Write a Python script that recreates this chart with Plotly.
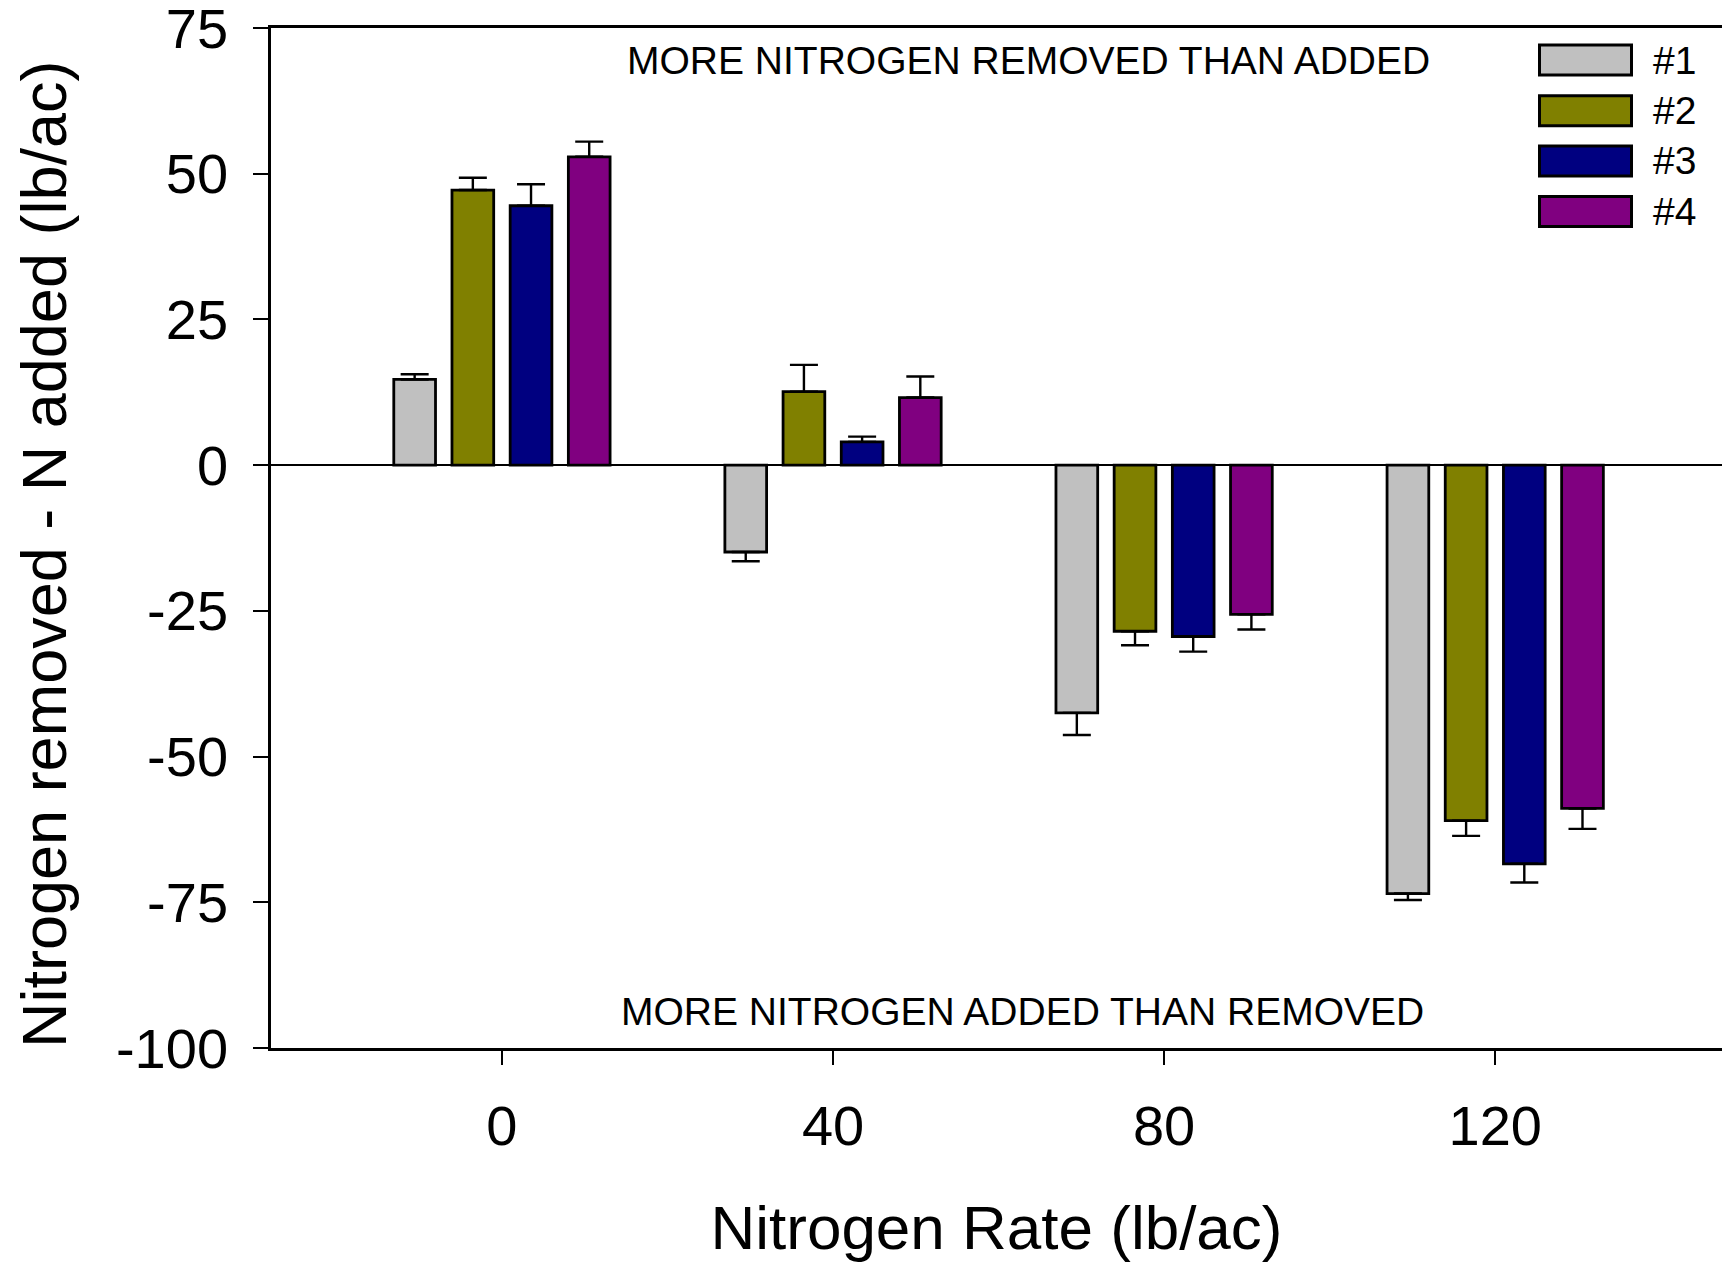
import plotly.graph_objects as go

# ---- data ----
rates = [0, 40, 80, 120]
series_names = ["#1", "#2", "#3", "#4"]
s1 = [14.7, -14.9, -42.5, -73.5]
s2 = [47.2, 12.6, -28.5, -61.0]
s3 = [44.5, 4.0, -29.4, -68.4]
s4 = [52.9, 11.6, -25.6, -58.9]
e1 = [0.9, 1.6, 3.8, 1.1]
e2 = [2.1, 4.6, 2.4, 2.6]
e3 = [3.7, 0.9, 2.6, 3.2]
e4 = [2.6, 3.6, 2.6, 3.5]
colors = ["#C0C0C0", "#808000", "#000080", "#800080"]
y_tickvals = [-100, -75, -50, -25, 0, 25, 50, 75]
y_ticktext = ["-100", "-75", "-50", "-25", "0", "25", "50", "75"]
x_ticktext = ["0", "40", "80", "120"]

FONT = "Arial, Liberation Sans, sans-serif"
W, H = 1722, 1262
ML, MR, MT, MB = 271, 0, 28, 214

fig = go.Figure()
for name, vals, errs, col in zip(series_names, [s1, s2, s3, s4], [e1, e2, e3, e4], colors):
    plus = [e if v >= 0 else 0 for v, e in zip(vals, errs)]
    minus = [e if v < 0 else 0 for v, e in zip(vals, errs)]
    fig.add_trace(go.Bar(
        x=rates, y=vals, name=name, showlegend=False,
        marker=dict(color=col, line=dict(color="black", width=2.8)),
        error_y=dict(type="data", symmetric=False, array=plus, arrayminus=minus,
                     color="black", thickness=2.4, width=14),
    ))

# custom legend (wide rectangular swatches like the reference)
pw = W - ML - MR
ph = H - MT - MB
def px_x(x):
    return (x - ML) / pw
def px_y(y):
    return (H - MB - y) / ph

swatch_tops = [45, 95.7, 146, 196.5]
shapes = []
annotations = []
for name, col, top in zip(series_names, colors, swatch_tops):
    shapes.append(dict(type="rect", xref="paper", yref="paper",
                       x0=px_x(1539.5), x1=px_x(1631.5), y0=px_y(top + 30), y1=px_y(top),
                       fillcolor=col, line=dict(color="black", width=3)))
    annotations.append(dict(xref="paper", yref="paper", x=px_x(1651), y=px_y(top + 15),
                            text=name, showarrow=False, xanchor="left", yanchor="middle",
                            font=dict(family=FONT, size=39, color="black")))

annotations.append(dict(xref="paper", yref="paper", x=px_x(1028), y=px_y(60),
                        text="MORE NITROGEN REMOVED THAN ADDED", showarrow=False,
                        xanchor="center", yanchor="middle",
                        font=dict(family=FONT, size=39, color="black")))
annotations.append(dict(xref="paper", yref="paper", x=px_x(1022), y=px_y(1011),
                        text="MORE NITROGEN ADDED THAN REMOVED", showarrow=False,
                        xanchor="center", yanchor="middle",
                        font=dict(family=FONT, size=39, color="black")))
# y-axis title placed precisely
annotations.append(dict(xref="paper", yref="paper", x=px_x(44), y=px_y(555),
                        text="Nitrogen removed - N added (lb/ac)", showarrow=False,
                        textangle=-90, xanchor="center", yanchor="middle",
                        font=dict(family=FONT, size=63, color="black")))

fig.update_layout(
    width=W, height=H,
    margin=dict(l=ML, r=MR, t=MT, b=MB, pad=0, autoexpand=False),
    paper_bgcolor="white", plot_bgcolor="white",
    barmode="group", bargap=0.297, bargroupgap=0.283,
    font=dict(family=FONT, color="black"),
    shapes=shapes, annotations=annotations,
    xaxis=dict(
        range=[-27.9, 147.4], tickmode="array", tickvals=rates, ticktext=x_ticktext,
        ticks="outside", ticklen=14, tickwidth=1.5, tickcolor="black",
        showline=True, linecolor="black", linewidth=2.5, mirror=True,
        showgrid=False, zeroline=False, automargin=False,
        tickfont=dict(family=FONT, size=56, color="black"),
        ticklabelstandoff=13, ticklabeloverflow="allow",
        title=dict(text="Nitrogen Rate (lb/ac)", font=dict(family=FONT, size=62, color="black"),
                   standoff=62),
    ),
    yaxis=dict(
        range=[-100, 75], tickmode="array", tickvals=y_tickvals, ticktext=y_ticktext,
        ticks="outside", ticklen=15, tickwidth=2, tickcolor="black",
        showline=True, linecolor="black", linewidth=2.5,
        showgrid=False, zeroline=True, zerolinecolor="black", zerolinewidth=1.6,
        automargin=False,
        tickfont=dict(family=FONT, size=56, color="black"),
        ticklabelstandoff=14, ticklabeloverflow="allow",
    ),
)

fig.write_html("out.html", config={"displayModeBar": False},
               post_script="document.body.style.margin='0';document.body.style.overflow='hidden';")
